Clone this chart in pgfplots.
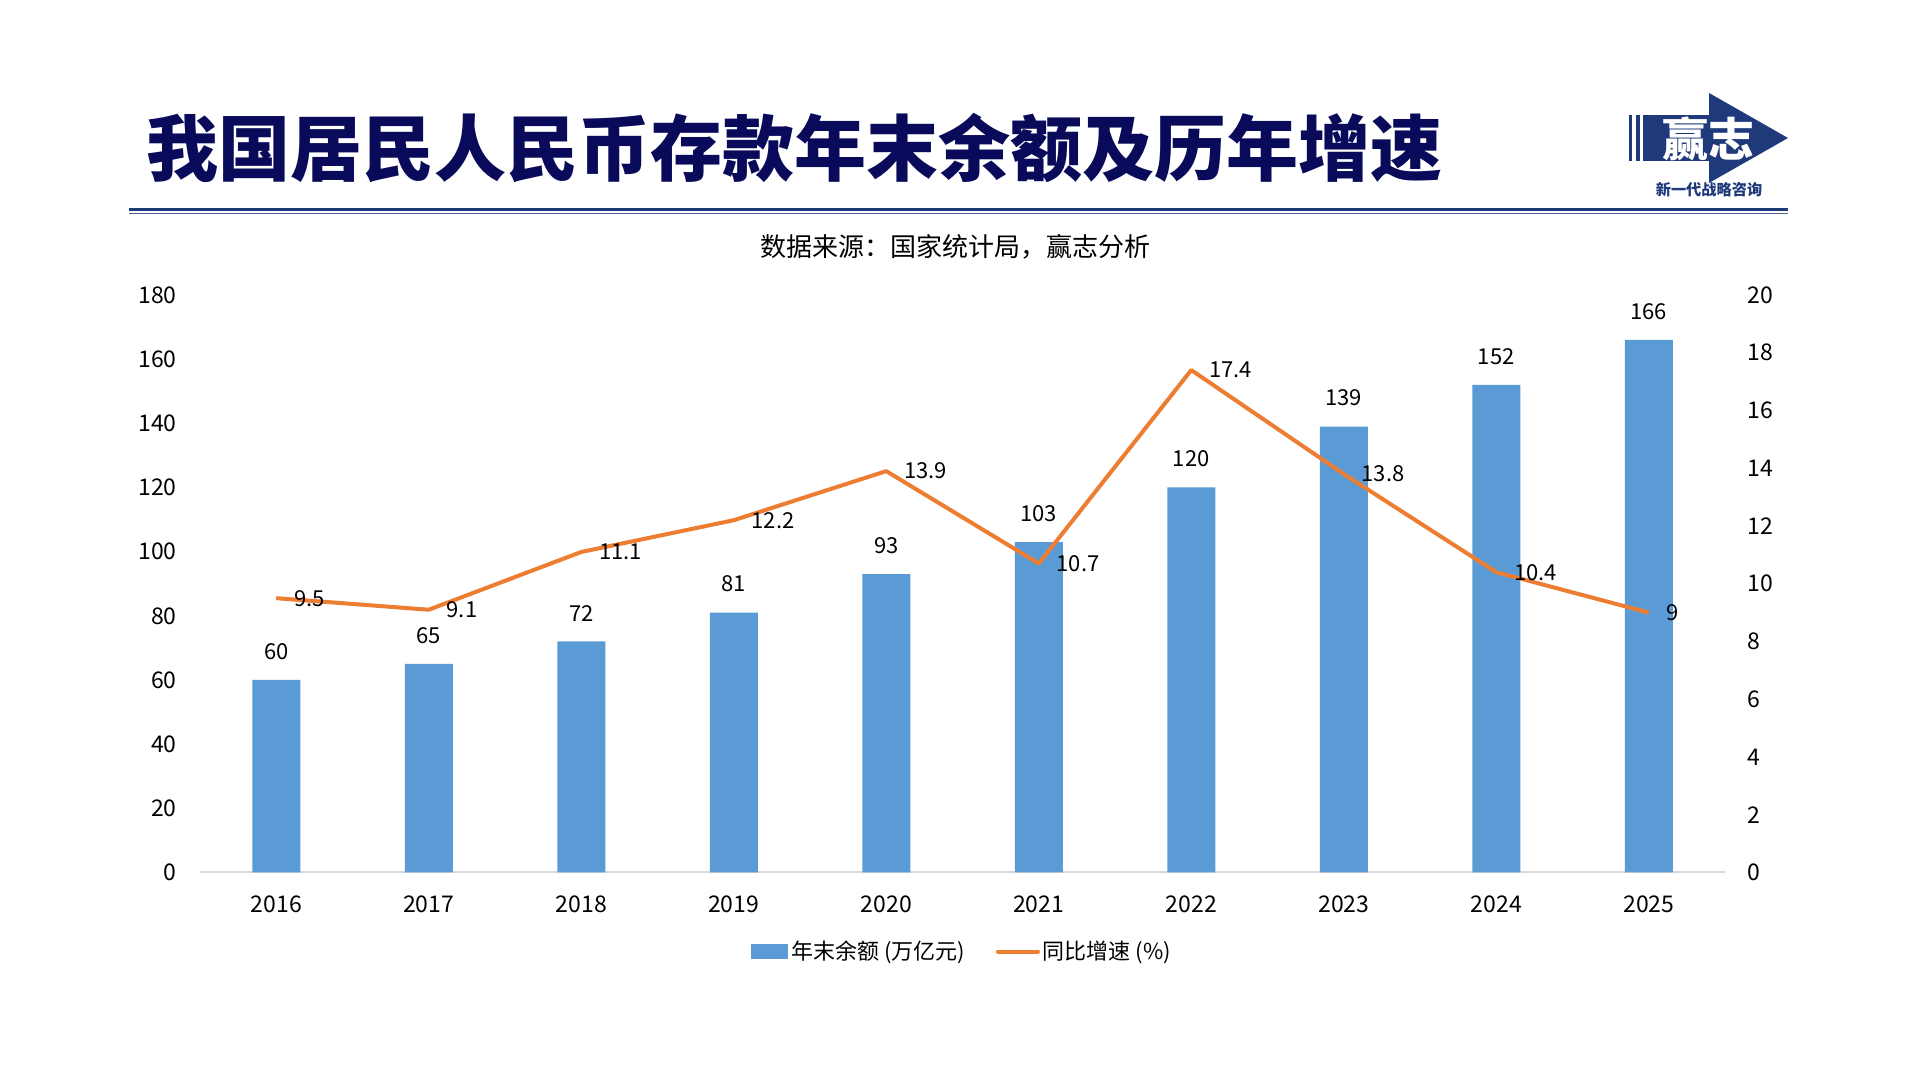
\documentclass[border=0pt]{standalone}
\usepackage{pgfplots}
\pgfplotsset{compat=1.18}
\usepackage{fontspec}
\setmainfont{Noto Sans CJK SC}
\definecolor{barblue}{HTML}{5B9BD5}
\definecolor{lineorange}{HTML}{ED7D31}
\definecolor{titlenavy}{RGB}{10,10,90}
\definecolor{logonavy}{RGB}{30,58,122}
\definecolor{axgray}{HTML}{D9D9D9}
\pgfplotsset{/pgf/number format/assume math mode=true}
\begin{document}
\begin{tikzpicture}
\fill[white] (0,0) rectangle (960pt,540pt);
% title
\node[anchor=west, inner sep=0pt, font=\fontsize{36}{38}\selectfont\bfseries, text=titlenavy] at (73pt,466pt) {我国居民人民币存款年末余额及历年增速};
\draw[logonavy, line width=1.75pt] (64.5pt,435.25pt) -- (894pt,435.25pt);
\draw[logonavy!80, line width=0.7pt] (64.5pt,433.1pt) -- (894pt,433.1pt);
% logo
\fill[logonavy] (814.5pt,482.5pt) rectangle (816pt,459.5pt);
\fill[logonavy] (817.8pt,482.5pt) rectangle (820pt,459.5pt);
\fill[logonavy] (821.5pt,482.5pt) rectangle (855pt,459.5pt);
\fill[logonavy] (854.5pt,493.5pt) -- (894pt,471pt) -- (854.5pt,448.5pt) -- cycle;
\node[inner sep=0pt, font=\fontsize{23}{24}\selectfont\bfseries, text=white] at (854pt,470.5pt) {赢志};
\node[inner sep=0pt, font=\fontsize{7.6}{8}\selectfont\bfseries, text=logonavy] at (854.5pt,445pt) {新一代战略咨询};
% subtitle
\node[inner sep=0pt, font=\fontsize{13}{14}\selectfont] at (477.5pt,416.5pt) {数据来源：国家统计局，赢志分析};

\begin{axis}[
  at={(100pt,103.75pt)}, anchor=south west, scale only axis,
  width=762.5pt, height=288.75pt,
  xmin=-0.5, xmax=9.5, ymin=0, ymax=180,
  xtick={0,1,2,3,4,5,6,7,8,9},
  xticklabels={2016,2017,2018,2019,2020,2021,2022,2023,2024,2025},
  ytick={0,20,40,60,80,100,120,140,160,180},
  axis x line*=bottom, axis y line*=left,
  x axis line style={draw=axgray, line width=1pt, -},
  y axis line style={draw=none},
  major tick length=0pt, tick style={draw=none},
  ticklabel style={font=\fontsize{11.5}{12}\selectfont, inner sep=0pt},
  xticklabel style={anchor=north, yshift=-11.25pt},
  yticklabel style={anchor=east, xshift=-11.5pt},
  /pgf/number format/1000 sep={},
  legend columns=2,
  legend style={draw=none, fill=none, at={(0.5,-0.137)}, anchor=center,
    font=\fontsize{11}{12}\selectfont,
    /tikz/every even column/.append style={column sep=14pt},
    nodes={inner sep=1.5pt}},
]
\addplot[ybar, bar width=24pt, fill=barblue, draw=none,
  nodes near coords,
  nodes near coords style={font=\fontsize{11}{12}\selectfont, inner sep=0pt, anchor=south, yshift=10pt, text=black},
  legend image code/.code={\fill[barblue] (0pt,-3.65pt) rectangle (18.6pt,3.65pt);}]
  coordinates {(0,60) (1,65) (2,72) (3,81) (4,93) (5,103) (6,120) (7,139) (8,152) (9,166)};
\addlegendentry{年末余额 (万亿元)}
\addlegendimage{legend image code/.code={\draw[lineorange, line width=2pt, line cap=round] (0.5pt,0pt) -- (20.5pt,0pt);}}
\addlegendentry{同比增速 (\%)}
\end{axis}

\begin{axis}[
  at={(100pt,103.75pt)}, anchor=south west, scale only axis,
  width=762.5pt, height=288.75pt,
  xmin=-0.5, xmax=9.5, ymin=0, ymax=20,
  ytick={0,2,4,6,8,10,12,14,16,18,20},
  axis y line*=right, axis x line=none,
  y axis line style={draw=none},
  major tick length=0pt, tick style={draw=none},
  ticklabel style={font=\fontsize{11.5}{12}\selectfont, inner sep=0pt},
  yticklabel style={anchor=west, xshift=11pt},
]
\addplot[lineorange, line width=2pt, line join=round, mark=none,
  nodes near coords,
  nodes near coords style={font=\fontsize{11}{12}\selectfont, inner sep=0pt, anchor=west, xshift=8pt, text=black}]
  coordinates {(0,9.5) (1,9.1) (2,11.1) (3,12.2) (4,13.9) (5,10.7) (6,17.4) (7,13.8) (8,10.4) (9,9)};
\end{axis}
\end{tikzpicture}
\end{document}
